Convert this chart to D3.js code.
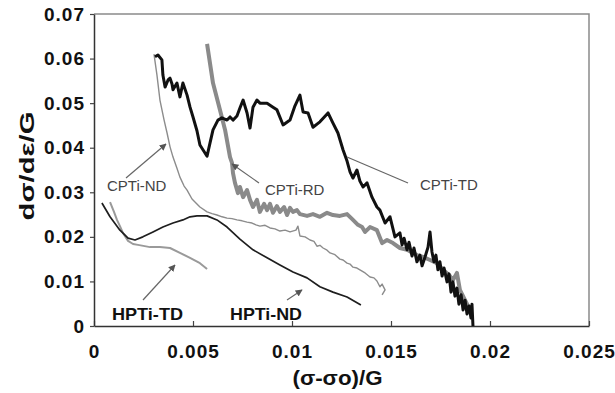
<!DOCTYPE html>
<html>
<head>
<meta charset="utf-8">
<script src="https://cdn.jsdelivr.net/npm/d3@7"></script>
<style>
  body { margin: 0; background: #fff; }
  text { font-family: "Liberation Sans", Arial, sans-serif; }
</style>
</head>
<body>
<div id="chart"></div>
<script>
// axis ticks
const xTickValues = [0, 0.005, 0.01, 0.015, 0.02, 0.025];
const xTickLabels = ["0", "0.005", "0.01", "0.015", "0.02", "0.025"];
const yTickValues = [0, 0.01, 0.02, 0.03, 0.04, 0.05, 0.06, 0.07];
const yTickLabels = ["0", "0.01", "0.02", "0.03", "0.04", "0.05", "0.06", "0.07"];

// series, [ (σ-σo)/G , dσ/dε/G ]
const cptiTD = [
  [0.00308,0.0604],[0.00323,0.0608],[0.00343,0.0597],[0.00348,0.0563],[0.00359,0.0536],
  [0.00374,0.0552],[0.00384,0.0556],[0.00394,0.0543],[0.00399,0.0530],[0.00419,0.0545],
  [0.00434,0.0514],[0.00449,0.0545],[0.00470,0.0518],[0.00485,0.0491],[0.00500,0.0469],
  [0.00520,0.0438],[0.00535,0.0406],[0.00551,0.0395],[0.00571,0.0381],[0.00586,0.0411],
  [0.00601,0.0440],[0.00626,0.0462],[0.00646,0.0467],[0.00672,0.0462],[0.00687,0.0469],
  [0.00702,0.0462],[0.00722,0.0471],[0.00737,0.0489],[0.00753,0.0507],[0.00773,0.0478],
  [0.00788,0.0444],[0.00803,0.0491],[0.00823,0.0507],[0.00838,0.0500],[0.00874,0.0500],
  [0.00904,0.0491],[0.00924,0.0485],[0.00955,0.0451],[0.00990,0.0462],[0.01015,0.0494],
  [0.01040,0.0518],[0.01056,0.0480],[0.01081,0.0478],[0.01106,0.0446],[0.01141,0.0458],
  [0.01182,0.0478],[0.01207,0.0455],[0.01232,0.0433],[0.01258,0.0395],[0.01278,0.0370],
  [0.01293,0.0346],[0.01308,0.0332],[0.01328,0.0350],[0.01343,0.0325],[0.01359,0.0312],
  [0.01379,0.0321],[0.01404,0.0289],[0.01429,0.0267],[0.01444,0.0260],[0.01470,0.0231],
  [0.01495,0.0245],[0.01520,0.0200],[0.01545,0.0209],[0.01556,0.0182],[0.01566,0.0197],
  [0.01581,0.0171],[0.01591,0.0188],[0.01606,0.0157],[0.01616,0.0175],[0.01631,0.0144],
  [0.01646,0.0159],[0.01657,0.0135],[0.01672,0.0155],[0.01687,0.0177],[0.01697,0.0211],
  [0.01707,0.0166],[0.01717,0.0144],[0.01727,0.0159],[0.01737,0.0126],[0.01747,0.0144],
  [0.01758,0.0112],[0.01768,0.0130],[0.01783,0.0099],[0.01793,0.0117],[0.01803,0.0076],
  [0.01813,0.0099],[0.01823,0.0067],[0.01833,0.0085],[0.01843,0.0049],[0.01854,0.0070],
  [0.01864,0.0036],[0.01874,0.0058],[0.01884,0.0027],[0.01894,0.0045],[0.01904,0.0018],
  [0.01909,0.0049],[0.01914,0.0000]
];

const cptiRD = [
  [0.00571,0.0633],[0.00601,0.0545],[0.00636,0.0485],[0.00662,0.0440],[0.00687,0.0379],
  [0.00697,0.0366],[0.00702,0.0343],[0.00712,0.0321],[0.00727,0.0298],[0.00737,0.0312],
  [0.00753,0.0289],[0.00773,0.0305],[0.00788,0.0283],[0.00803,0.0267],[0.00823,0.0283],
  [0.00838,0.0256],[0.00859,0.0274],[0.00874,0.0260],[0.00889,0.0274],[0.00904,0.0254],
  [0.00924,0.0269],[0.00939,0.0256],[0.00960,0.0267],[0.00975,0.0249],[0.00990,0.0265],
  [0.01005,0.0256],[0.01025,0.0260],[0.01040,0.0251],[0.01076,0.0247],[0.01106,0.0251],
  [0.01141,0.0245],[0.01177,0.0254],[0.01207,0.0249],[0.01242,0.0247],[0.01278,0.0251],
  [0.01308,0.0238],[0.01333,0.0227],[0.01354,0.0222],[0.01369,0.0211],[0.01394,0.0222],
  [0.01429,0.0215],[0.01455,0.0186],[0.01480,0.0193],[0.01510,0.0186],[0.01545,0.0175],
  [0.01581,0.0171],[0.01631,0.0159],[0.01662,0.0155],[0.01697,0.0148],[0.01732,0.0141],
  [0.01763,0.0126],[0.01798,0.0112],[0.01813,0.0103],[0.01833,0.0119],[0.01848,0.0081],
  [0.01874,0.0058],[0.01889,0.0045]
];

const cptiND = [
  [0.00303,0.0610],[0.00318,0.0563],[0.00333,0.0507],[0.00354,0.0462],[0.00369,0.0433],
  [0.00384,0.0402],[0.00399,0.0379],[0.00419,0.0354],[0.00434,0.0334],[0.00455,0.0314],
  [0.00470,0.0305],[0.00495,0.0285],[0.00535,0.0267],[0.00571,0.0256],[0.00596,0.0252],
  [0.00621,0.0249],[0.00647,0.0245],[0.00672,0.0242],[0.00697,0.0241],[0.00722,0.0238],
  [0.00748,0.0236],[0.00773,0.0233],[0.00798,0.0231],[0.00818,0.0227],[0.00838,0.0224],
  [0.00864,0.0226],[0.00889,0.0220],[0.00914,0.0218],[0.00939,0.0213],[0.00965,0.0215],
  [0.00990,0.0211],[0.01020,0.0215],[0.01030,0.0224],[0.01040,0.0202],[0.01066,0.0200],
  [0.01091,0.0193],[0.01111,0.0190],[0.01126,0.0179],[0.01141,0.0181],[0.01157,0.0175],
  [0.01177,0.0170],[0.01192,0.0164],[0.01217,0.0160],[0.01242,0.0150],[0.01258,0.0148],
  [0.01278,0.0141],[0.01293,0.0139],[0.01308,0.0132],[0.01328,0.0130],[0.01343,0.0126],
  [0.01369,0.0119],[0.01394,0.0110],[0.01414,0.0108],[0.01429,0.0101],[0.01444,0.0088],
  [0.01455,0.0094],[0.01470,0.0081],[0.01455,0.0070]
];

const hptiND = [
  [0.00040,0.0276],[0.00081,0.0245],[0.00131,0.0215],[0.00172,0.0197],[0.00207,0.0193],
  [0.00247,0.0200],[0.00298,0.0211],[0.00348,0.0222],[0.00399,0.0231],[0.00449,0.0238],
  [0.00485,0.0245],[0.00520,0.0247],[0.00571,0.0247],[0.00621,0.0238],[0.00672,0.0222],
  [0.00737,0.0195],[0.00803,0.0171],[0.00874,0.0153],[0.00939,0.0137],[0.01005,0.0121],
  [0.01076,0.0108],[0.01141,0.0088],[0.01207,0.0076],[0.01278,0.0065],[0.01348,0.0047]
];

const hptiTD = [
  [0.00081,0.0278],[0.00101,0.0256],[0.00116,0.0238],[0.00131,0.0224],[0.00146,0.0209],
  [0.00172,0.0191],[0.00197,0.0184],[0.00222,0.0182],[0.00283,0.0177],[0.00333,0.0177],
  [0.00384,0.0175],[0.00434,0.0164],[0.00485,0.0153],[0.00535,0.0141],[0.00571,0.0128]
];

const W = 615, H = 393;
const margin = { top: 14, right: 26, bottom: 67, left: 94 };

const svg = d3.select("#chart").append("svg")
  .attr("width", W)
  .attr("height", H);

const x = d3.scaleLinear().domain([0, 0.025]).range([margin.left, W - margin.right]);
const y = d3.scaleLinear().domain([0, 0.07]).range([H - margin.bottom, margin.top]);

svg.append("defs").append("marker")
  .attr("id", "arrow")
  .attr("viewBox", "0 0 10 10")
  .attr("refX", 9).attr("refY", 5)
  .attr("markerWidth", 7).attr("markerHeight", 7)
  .attr("markerUnits", "userSpaceOnUse")
  .attr("orient", "auto")
  .append("path")
  .attr("d", "M0,0L10,5L0,10z")
  .attr("fill", "#555");

// top and right frame
svg.append("path")
  .attr("d", `M${x(0)},${y(0.07)}H${x(0.025)}V${y(0)}`)
  .attr("fill", "none")
  .attr("stroke", "#8a8a8a")
  .attr("stroke-width", 1.5);

const xAxis = svg.append("g")
  .attr("transform", `translate(0,${y(0)})`)
  .call(d3.axisBottom(x)
    .tickValues(xTickValues)
    .tickFormat((d, i) => xTickLabels[i])
    .tickSizeInner(-5)
    .tickSizeOuter(0)
    .tickPadding(19));

const yAxis = svg.append("g")
  .attr("transform", `translate(${x(0)},0)`)
  .call(d3.axisLeft(y)
    .tickValues(yTickValues)
    .tickFormat((d, i) => yTickLabels[i])
    .tickSizeInner(4)
    .tickSizeOuter(0)
    .tickPadding(5));

[xAxis, yAxis].forEach(g => {
  g.select(".domain").attr("stroke", "#333").attr("stroke-width", 1.5);
  g.selectAll(".tick line").attr("stroke", "#444").attr("stroke-width", 1.2);
  g.selectAll(".tick text")
    .attr("fill", "#111")
    .style("font-size", "19px")
    .style("font-weight", "bold")
    .style("letter-spacing", "1px")
    .style("font-family", '"Liberation Sans", Arial, sans-serif');
});

// series
const line = d3.line().x(d => x(d[0])).y(d => y(d[1]));

const series = [
  { data: cptiRD, color: "#8a8a8a", width: 4 },
  { data: cptiND, color: "#8c8c8c", width: 1.4 },
  { data: hptiTD, color: "#9a9a9a", width: 2 },
  { data: hptiND, color: "#1e1e1e", width: 1.7 },
  { data: cptiTD, color: "#111", width: 3 }
];

svg.selectAll(".series")
  .data(series)
  .enter()
  .append("path")
  .attr("class", "series")
  .attr("d", d => line(d.data))
  .attr("fill", "none")
  .attr("stroke", d => d.color)
  .attr("stroke-width", d => d.width)
  .attr("stroke-linejoin", "round");

// annotations (pixel layout)
const notes = [
  { text: "CPTi-ND", tx: 107, ty: 191, bold: false, line: [126, 178, 166, 144], arrow: true },
  { text: "CPTi-RD", tx: 265, ty: 195, bold: false, line: [259, 183, 232, 164], arrow: true },
  { text: "CPTi-TD", tx: 420, ty: 190, bold: false, line: [408, 183, 347, 157], arrow: false },
  { text: "HPTi-TD", tx: 112, ty: 320, bold: true, len: 71, line: [143, 300, 175, 265], arrow: true },
  { text: "HPTi-ND", tx: 230, ty: 320, bold: true, len: 72, line: [287, 300, 302, 290], arrow: true }
];

notes.forEach(n => {
  svg.append("line")
    .attr("x1", n.line[0]).attr("y1", n.line[1])
    .attr("x2", n.line[2]).attr("y2", n.line[3])
    .attr("stroke", "#666")
    .attr("stroke-width", 1.2)
    .attr("marker-end", n.arrow ? "url(#arrow)" : null);
  const t = svg.append("text")
    .attr("x", n.tx).attr("y", n.ty)
    .attr("fill", n.bold ? "#111" : "#444")
    .style("font-size", n.bold ? "17px" : "15px")
    .style("font-weight", n.bold ? "bold" : "normal")
    .text(n.text);
  if (n.len) t.attr("textLength", n.len).attr("lengthAdjust", "spacingAndGlyphs");
});

// axis titles
svg.append("text")
  .attr("transform", `translate(34,${(y(0) + y(0.07)) / 2 - 4}) rotate(-90)`)
  .attr("text-anchor", "middle")
  .attr("textLength", 109)
  .attr("lengthAdjust", "spacingAndGlyphs")
  .attr("fill", "#111")
  .style("font-size", "21px")
  .style("font-weight", "bold")
  .text("dσ/dε/G");

svg.append("text")
  .attr("x", (x(0) + x(0.025)) / 2 - 4)
  .attr("y", 385)
  .attr("text-anchor", "middle")
  .attr("textLength", 90)
  .attr("lengthAdjust", "spacingAndGlyphs")
  .attr("fill", "#111")
  .style("font-size", "20px")
  .style("font-weight", "bold")
  .text("(σ-σo)/G");
</script>
</body>
</html>
